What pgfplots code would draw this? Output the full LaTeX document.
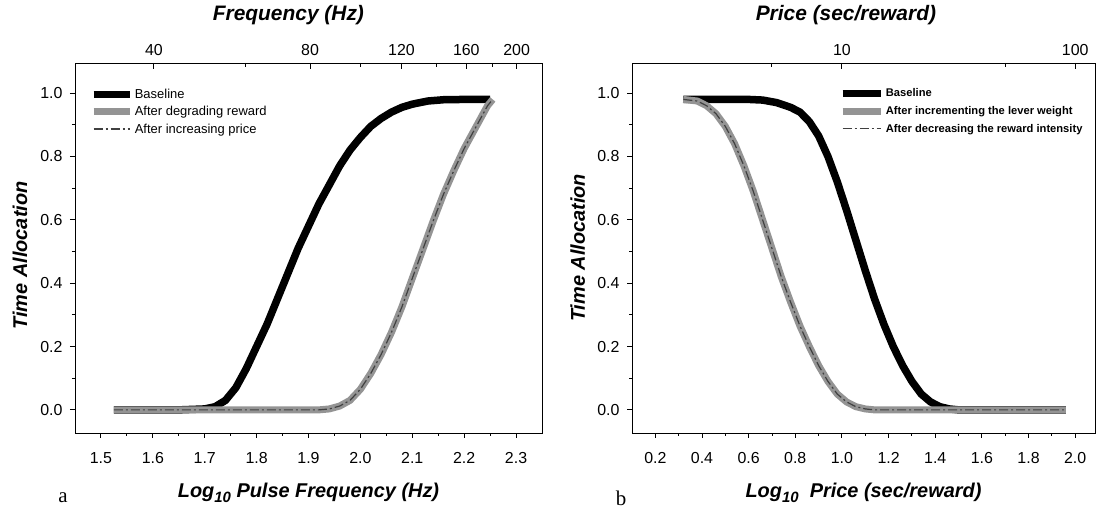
\documentclass[border=0pt]{standalone}
\usepackage{fontspec}
\setmainfont{Liberation Sans}
\newfontfamily\seriffont{Liberation Serif}
\usepackage{pgfplots}
\pgfplotsset{compat=1.18}

\definecolor{curvegray}{RGB}{148,148,148}

\pgfplotstableread{
x y
1.525 0
1.65 0
1.70 0.003
1.72 0.01
1.74 0.03
1.76 0.07
1.78 0.13
1.80 0.20
1.82 0.27
1.84 0.35
1.86 0.43
1.88 0.51
1.90 0.58
1.92 0.65
1.94 0.71
1.96 0.77
1.98 0.82
2.00 0.86
2.02 0.895
2.04 0.92
2.06 0.94
2.08 0.955
2.10 0.965
2.13 0.975
2.16 0.979
2.20 0.98
2.25 0.98
}\freqbase

\pgfplotstableread{
x y
1.525 0
1.92 0
1.94 0.003
1.96 0.012
1.98 0.03
2.00 0.065
2.02 0.115
2.04 0.175
2.06 0.245
2.08 0.325
2.10 0.415
2.12 0.505
2.14 0.595
2.16 0.68
2.18 0.755
2.20 0.825
2.22 0.885
2.235 0.93
2.245 0.96
2.255 0.98
}\freqshift

\pgfplotstableread{
x y
0.32 0.98
0.60 0.98
0.66 0.978
0.72 0.97
0.78 0.955
0.82 0.94
0.86 0.91
0.90 0.865
0.94 0.80
0.98 0.72
1.02 0.63
1.06 0.535
1.10 0.44
1.14 0.35
1.18 0.27
1.22 0.20
1.26 0.14
1.30 0.09
1.34 0.05
1.38 0.025
1.42 0.01
1.46 0.003
1.50 0
1.96 0
}\pricebase

\pgfplotstableread{
x y
0.32 0.98
0.38 0.975
0.42 0.96
0.46 0.935
0.50 0.895
0.54 0.84
0.58 0.77
0.62 0.69
0.66 0.60
0.70 0.51
0.74 0.42
0.78 0.34
0.82 0.265
0.86 0.20
0.90 0.14
0.94 0.09
0.98 0.05
1.02 0.025
1.06 0.01
1.10 0.003
1.14 0
1.96 0
}\priceshift

\pgfplotsset{
  panel/.style={
    scale only axis,
    anchor=south west,
    height=370bp,
    ymin=-0.073, ymax=1.095,
    ytick={0,0.2,0.4,0.6,0.8,1.0},
    yticklabels={0.0,0.2,0.4,0.6,0.8,1.0},
    minor y tick num=1,
    minor x tick num=1,
    tick align=outside,
    xtick pos=bottom, ytick pos=left,
    axis line style={line width=0.9bp},
    every tick/.style={line width=0.9bp, black},
    major tick length=5bp, minor tick length=3bp,
    tick label style={font=\fontsize{16}{18}\selectfont},
    xticklabel style={yshift=-11bp},
    yticklabel style={xshift=-4bp},
    label style={font=\fontsize{20}{22}\selectfont\bfseries\itshape},
    /pgf/number format/assume math mode=true,
    ylabel style={at={(axis description cs:-0.118,0.48)}, anchor=center},
    xlabel style={at={(axis description cs:0.5,-0.162)}, anchor=center},
    legend cell align=left,
  },
  toppanel/.style={
    scale only axis,
    anchor=south west,
    height=370bp,
    ymin=-0.073, ymax=1.095,
    axis x line*=top,
    hide y axis,
    tick align=inside,
    axis line style={line width=0.9bp},
    every tick/.style={line width=0.9bp, black},
    major tick length=6bp, minor tick length=4bp,
    tick label style={font=\fontsize{16}{18}\selectfont},
    xticklabel style={yshift=4bp},
    label style={font=\fontsize{21}{23}\selectfont\bfseries\itshape},
    /pgf/number format/assume math mode=true,
  },
  basecurve/.style={black, line width=7.5bp, line join=round},
  graycurve/.style={curvegray, line width=7bp, line join=round},
  dashcurve/.style={black!75, line width=1.2bp, dash pattern=on 9bp off 3bp on 2bp off 3bp},
}

\begin{document}
\begin{tikzpicture}
\useasboundingbox (0,0) rectangle (1097bp,515bp);

% ---------- panel a ----------
\begin{axis}[panel,
  at={(75bp,82bp)}, width=467bp,
  xmin=1.45, xmax=2.35,
  xtick={1.5,1.6,1.7,1.8,1.9,2.0,2.1,2.2,2.3},
  xticklabels={1.5,1.6,1.7,1.8,1.9,2.0,2.1,2.2,2.3},
  xlabel={Log\raisebox{-0.45ex}{\fontsize{15}{15}\selectfont 10} Pulse Frequency (Hz)},
  ylabel={Time Allocation},
  legend style={at={(axis description cs:0.025,0.94)}, anchor=north west,
    draw=none, fill=none, font=\fontsize{13}{14}\selectfont, row sep=3.5bp,
    nodes={inner sep=1.5bp}},
  legend image code/.code={\draw[#1] (0bp,0bp) -- (36bp,0bp);},
]
\addplot[basecurve] table {\freqbase};
\addlegendentry{Baseline}
\addplot[graycurve] table {\freqshift};
\addlegendentry{After degrading reward}
\addplot[dashcurve] table {\freqshift};
\addlegendentry{After increasing price}
\end{axis}
\begin{axis}[toppanel,
  at={(75bp,82bp)}, width=467bp,
  xmin=1.45, xmax=2.35,
  xtick={1.60206,1.90309,2.07918,2.20412,2.30103},
  xticklabels={40,80,120,160,200},
  minor xtick={1.77815,2,2.14613,2.25527},
  xlabel={Frequency (Hz)},
  xlabel style={at={(axis description cs:0.457,1.13)}, anchor=center},
]
\addplot[draw=none] coordinates {(1.5,0)};
\end{axis}
\node[font=\seriffont\fontsize{21}{22}\selectfont] at (63bp,17bp) {a};

% ---------- panel b ----------
\begin{axis}[panel,
  at={(632bp,82bp)}, width=463bp,
  xmin=0.1, xmax=2.085,
  xtick={0.2,0.4,0.6,0.8,1.0,1.2,1.4,1.6,1.8,2.0},
  xticklabels={0.2,0.4,0.6,0.8,1.0,1.2,1.4,1.6,1.8,2.0},
  xlabel={Log\raisebox{-0.45ex}{\fontsize{15}{15}\selectfont 10}\ \ Price (sec/reward)},
  ylabel={Time Allocation},
  ylabel style={at={(axis description cs:-0.117,0.5)}},
  legend style={at={(axis description cs:0.44,0.94)}, anchor=north west,
    draw=none, fill=none, font=\fontsize{11.2}{12.5}\selectfont\bfseries, row sep=5bp,
    nodes={inner sep=1.5bp}},
  legend image code/.code={\draw[#1] (0bp,0bp) -- (38bp,0bp);},
]
\addplot[basecurve] table {\pricebase};
\addlegendentry{Baseline}
\addplot[graycurve] table {\priceshift};
\addlegendentry{After incrementing the lever weight}
\addplot[dashcurve] table {\priceshift};
\addlegendentry{After decreasing the reward intensity}
\end{axis}
\begin{axis}[toppanel,
  at={(632bp,82bp)}, width=463bp,
  xmin=0.1, xmax=2.085,
  xtick={1,2},
  xticklabels={10,100},
  minor xtick={0.69897,1.69897},
  xlabel={Price (sec/reward)},
  xlabel style={at={(axis description cs:0.462,1.13)}, anchor=center},
]
\addplot[draw=none] coordinates {(0.5,0)};
\end{axis}
\node[font=\seriffont\fontsize{21}{22}\selectfont] at (621bp,17bp) {b};
\end{tikzpicture}
\end{document}
